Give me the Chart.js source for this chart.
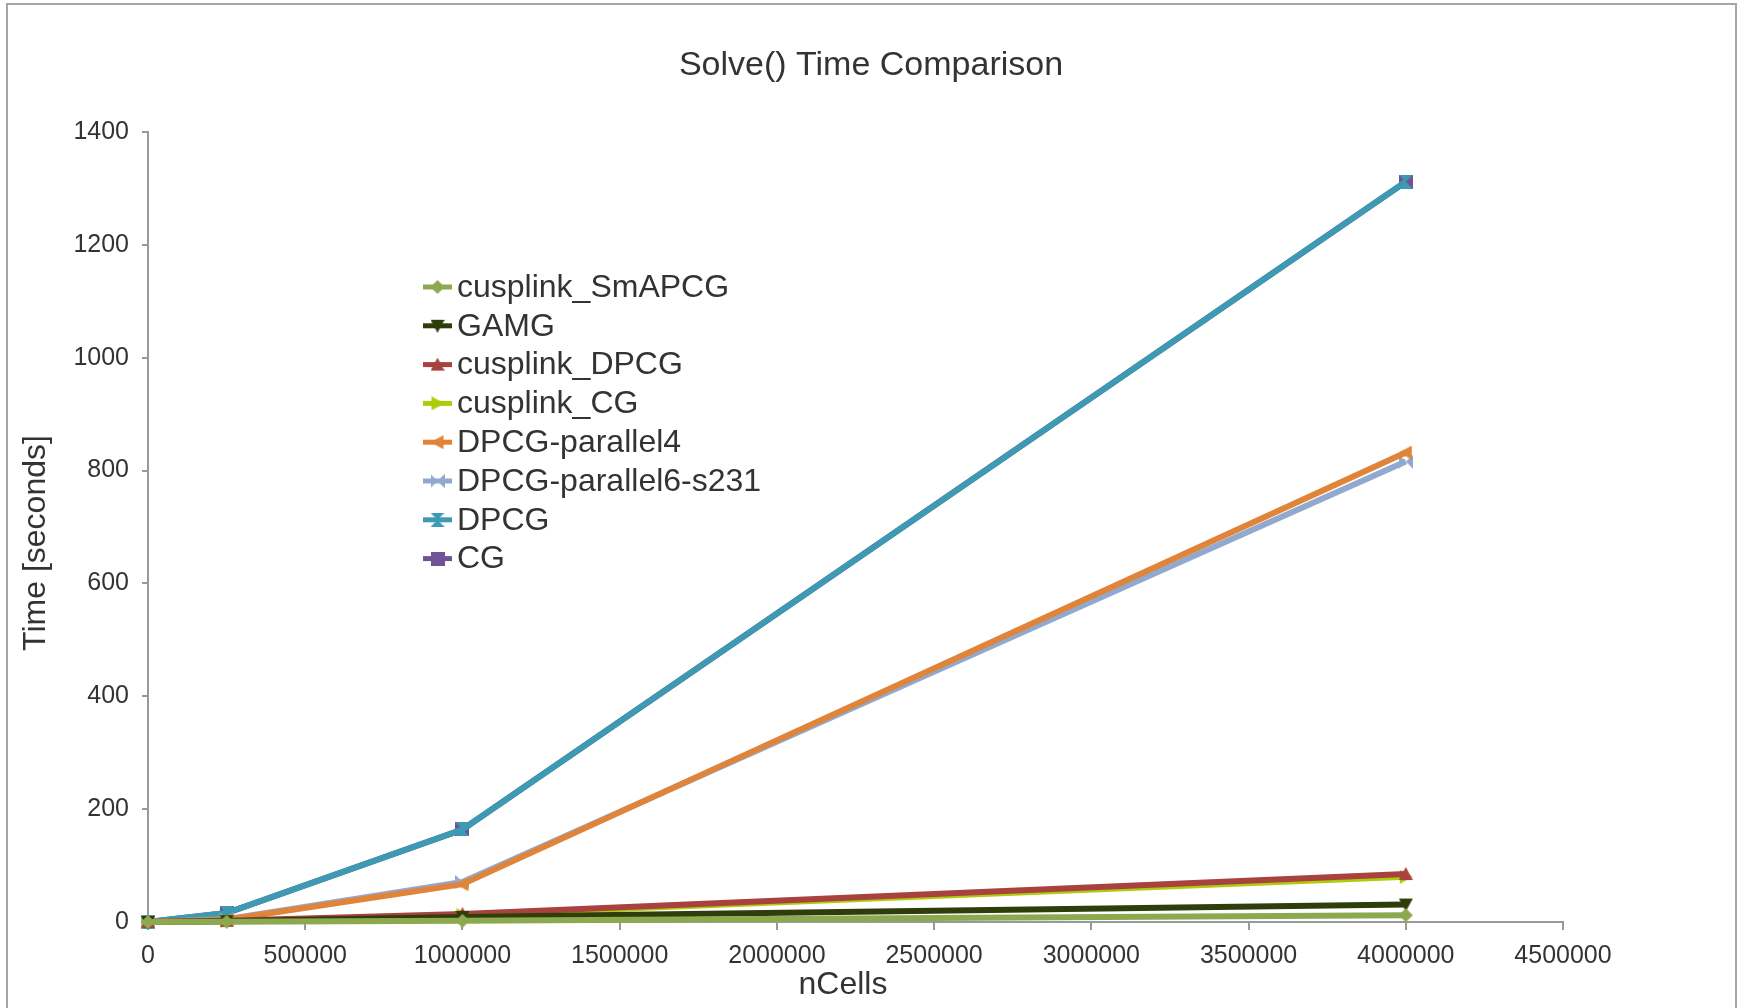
<!DOCTYPE html>
<html>
<head>
<meta charset="utf-8">
<script src="https://cdn.jsdelivr.net/npm/chart.js@4.4.1/dist/chart.umd.min.js"></script>
<style>
  body { margin: 0; background: #fff; overflow: hidden; }
  #frame { position: absolute; left: 6px; top: 3px; width: 1727px; height: 1100px; border: 2px solid #a6a6a6; }
  #wrap { position: absolute; left: 0; top: 0; width: 1740px; height: 1008px; }
</style>
</head>
<body>
<div id="frame"></div>
<div id="wrap"><canvas id="grafico"></canvas></div>
<script>
// nCells on the x axis
const nCells = [0, 250000, 1000000, 4000000];

// solve time in seconds, one array per solver
const cusplinkSmAPCG = [0, 0.5, 2, 12];
const gamg = [0, 1.5, 9, 31];
const cusplinkDPCG = [0, 2, 14, 85];
const cusplinkCG = [0, 1.5, 12, 80];
const dpcgParallel4 = [0, 4, 67, 832];
const dpcgParallel6 = [0, 5, 71, 816];
const dpcg = [0, 16, 164, 1312];
const cg = [0, 16, 164, 1312];

const seriesNames = ['cusplink_SmAPCG', 'GAMG', 'cusplink_DPCG', 'cusplink_CG',
  'DPCG-parallel4', 'DPCG-parallel6-s231', 'DPCG', 'CG'];
const seriesValues = [cusplinkSmAPCG, gamg, cusplinkDPCG, cusplinkCG,
  dpcgParallel4, dpcgParallel6, dpcg, cg];
const cores = ['#8DA94F', '#2F3D0B', '#A8423F', '#AFCB0C', '#E0843A', '#92A9CF', '#3E9AB3', '#6F5393'];
const formas = ['diamond', 'down', 'up', 'right', 'left', 'bowtie', 'hourglass', 'square'];

const xTicks = [0, 500000, 1000000, 1500000, 2000000, 2500000, 3000000, 3500000, 4000000, 4500000];
const yTicks = [0, 200, 400, 600, 800, 1000, 1200, 1400];

const titulo = 'Solve() Time Comparison';
const tituloX = 'nCells';
const tituloY = 'Time [seconds]';

const FONTE = "'Liberation Sans', Arial, sans-serif";
const TEXTO = '#333333';

function marcador(forma, cor, s) {
  const c = document.createElement('canvas');
  c.width = s; c.height = s;
  const g = c.getContext('2d');
  const h = s / 2;
  g.fillStyle = cor;
  g.beginPath();
  switch (forma) {
    case 'square': g.rect(0, 0, s, s); break;
    case 'diamond': g.moveTo(h, 0); g.lineTo(s, h); g.lineTo(h, s); g.lineTo(0, h); break;
    case 'down': g.moveTo(0, 1); g.lineTo(s, 1); g.lineTo(h, s); break;
    case 'up': g.moveTo(h, 0); g.lineTo(s, s - 1); g.lineTo(0, s - 1); break;
    case 'right': g.moveTo(1, 0); g.lineTo(s, h); g.lineTo(1, s); break;
    case 'left': g.moveTo(s - 1, 0); g.lineTo(0, h); g.lineTo(s - 1, s); break;
    case 'bowtie':
      g.moveTo(0, 0); g.lineTo(h, h); g.lineTo(0, s); g.closePath();
      g.moveTo(s, 0); g.lineTo(h, h); g.lineTo(s, s); break;
    case 'hourglass':
      g.moveTo(0, 0); g.lineTo(s, 0); g.lineTo(h, h); g.closePath();
      g.moveTo(0, s); g.lineTo(s, s); g.lineTo(h, h); break;
  }
  g.closePath();
  g.fill();
  return c;
}

const marcadores = formas.map((f, i) => marcador(f, cores[i], 14));

const datasets = seriesNames.map((nome, i) => ({
  label: nome,
  data: nCells.map((x, j) => ({ x: x, y: seriesValues[i][j] })),
  borderColor: cores[i],
  backgroundColor: cores[i],
  borderWidth: 6,
  pointStyle: marcadores[i],
  pointRadius: 7,
  pointHoverRadius: 7,
  tension: 0,
  clip: false,
  showLine: true
}));

// titles and legend drawn by hand so they sit where the original has them
const legendaInterna = {
  id: 'legendaInterna',
  afterDraw(chart) {
    const ctx = chart.ctx;
    ctx.save();
    ctx.fillStyle = TEXTO;
    ctx.textAlign = 'center';
    ctx.textBaseline = 'middle';
    ctx.font = '34px ' + FONTE;
    ctx.fillText(titulo, 871, 66);

    ctx.font = '32px ' + FONTE;
    ctx.fillText(tituloX, 843, 985);
    ctx.save();
    ctx.translate(36, 543);
    ctx.rotate(-Math.PI / 2);
    ctx.fillText(tituloY, 0, 0);
    ctx.restore();

    const x0 = 423, y0 = 287, passo = 38.8;
    ctx.textAlign = 'left';
    chart.data.datasets.forEach((ds, i) => {
      const y = y0 + i * passo;
      ctx.strokeStyle = ds.borderColor;
      ctx.lineWidth = 5;
      ctx.beginPath();
      ctx.moveTo(x0, y);
      ctx.lineTo(x0 + 29, y);
      ctx.stroke();
      const m = ds.pointStyle;
      ctx.drawImage(m, x0 + 14.5 - m.width / 2, y - m.height / 2);
      ctx.fillStyle = TEXTO;
      ctx.fillText(ds.label, x0 + 34, y + 1);
    });
    ctx.restore();
  }
};

new Chart(document.getElementById('grafico'), {
  type: 'scatter',
  data: { datasets: datasets },
  plugins: [legendaInterna],
  options: {
    responsive: true,
    maintainAspectRatio: false,
    animation: false,
    events: [],
    layout: { padding: { left: 0, right: 177, top: 132, bottom: 0 } },
    plugins: {
      legend: { display: false },
      tooltip: { enabled: false },
      title: { display: false }
    },
    scales: {
      x: {
        type: 'linear',
        min: 0,
        max: 4500000,
        afterFit: s => { s.height = 86; },
        afterBuildTicks: s => { s.ticks = xTicks.map(v => ({ value: v })); },
        ticks: {
          color: TEXTO,
          font: { family: FONTE, size: 25 },
          padding: 11,
          maxRotation: 0,
          autoSkip: false,
          callback: v => String(v)
        },
        grid: { display: true, drawOnChartArea: false, drawTicks: true, tickLength: 8, color: '#999999', lineWidth: 2 },
        border: { display: true, color: '#999999', width: 2 }
      },
      y: {
        type: 'linear',
        min: 0,
        max: 1400,
        afterFit: s => { s.width = 148; },
        afterBuildTicks: s => { s.ticks = yTicks.map(v => ({ value: v })); },
        ticks: {
          color: TEXTO,
          font: { family: FONTE, size: 25 },
          padding: 13,
          callback: v => String(v)
        },
        grid: { display: true, drawOnChartArea: false, drawTicks: true, tickLength: 6, color: '#999999', lineWidth: 2 },
        border: { display: true, color: '#999999', width: 2 }
      }
    }
  }
});
</script>
</body>
</html>
